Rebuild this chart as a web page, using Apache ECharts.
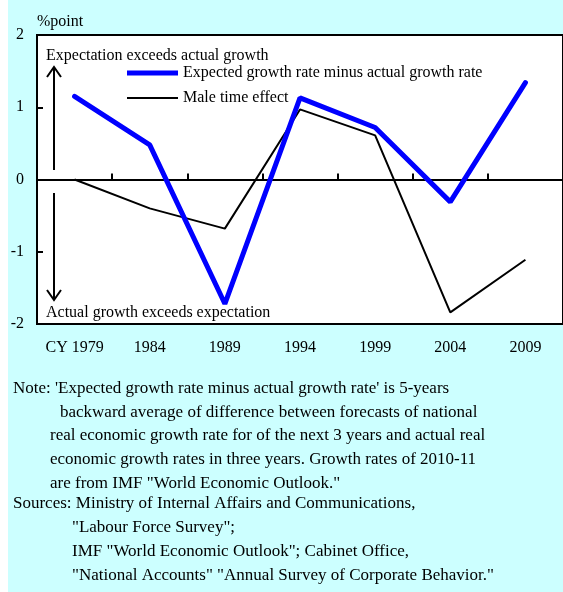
<!DOCTYPE html>
<html>
<head>
<meta charset="utf-8">
<script src="https://cdn.jsdelivr.net/npm/echarts@6/dist/echarts.min.js"></script>
<style>
  html, body { margin: 0; padding: 0; background: #ffffff; }
  #chart { width: 563px; height: 592px; }
</style>
</head>
<body>
<div id="chart"></div>
<script>
// Survey years (5-year steps)
const years = ['1979', '1984', '1989', '1994', '1999', '2004', '2009'];
// Expected growth rate minus actual growth rate (% point)
const expectedMinusActual = [1.15, 0.48, -1.72, 1.13, 0.72, -0.31, 1.34];
// Male time effect (% point)
const maleTimeEffect = [0.0, -0.40, -0.68, 0.97, 0.61, -1.84, -1.11];
const yTicks = { min: -2, max: 2, step: 1 };
const seriesNames = ['Expected growth rate minus actual growth rate', 'Male time effect'];
const noteLines = [
  "Note: 'Expected growth rate minus actual growth rate' is 5-years",
  'backward average of difference between forecasts of national',
  'real economic growth rate for of the next 3 years and actual real',
  'economic growth rates in three years. Growth rates of 2010-11',
  'are from IMF "World Economic Outlook."',
  'Sources: Ministry of Internal Affairs and Communications,',
  '"Labour Force Survey";',
  'IMF "World Economic Outlook"; Cabinet Office,',
  '"National Accounts" "Annual Survey of Corporate Behavior."'
];

// layout of the note block: left edge and vertical centre of each line
const noteX = [13, 60, 50, 50, 50, 13, 72, 72, 72];
const noteY = [389, 413, 436, 460, 484, 504, 528, 552, 576];

const FONT = '"Liberation Serif", "Times New Roman", serif';
const chart = echarts.init(document.getElementById('chart'), null, { renderer: 'canvas' });

function txt(s, x, y, size) {
  return {
    type: 'text', z: 10, x: x, y: y,
    style: { text: s, fontFamily: FONT, fontSize: size, fill: '#000', verticalAlign: 'middle', align: 'left' }
  };
}

const graphics = [
  // panel background
  { type: 'rect', z: -10, silent: true, shape: { x: 8, y: 0, width: 555, height: 592 }, style: { fill: '#ccffff' } },
  // direction annotations
  txt('Expectation exceeds actual growth', 46, 56, 16),
  txt('Actual growth exceeds expectation', 46, 313, 16),
  { type: 'line', z: 10, shape: { x1: 54, y1: 170, x2: 54, y2: 67 }, style: { stroke: '#000', lineWidth: 2 } },
  { type: 'polyline', z: 10, shape: { points: [[47, 77], [54, 67], [61, 77]] }, style: { stroke: '#000', lineWidth: 2, fill: null } },
  { type: 'line', z: 10, shape: { x1: 54, y1: 193, x2: 54, y2: 300 }, style: { stroke: '#000', lineWidth: 2 } },
  { type: 'polyline', z: 10, shape: { points: [[47, 290], [54, 300], [61, 290]] }, style: { stroke: '#000', lineWidth: 2, fill: null } }
];
noteLines.forEach(function (s, i) {
  graphics.push(txt(s, noteX[i], noteY[i], 17));
});

const legendText = { fontFamily: FONT, fontSize: 16, color: '#000' };

const option = {
  animation: false,
  backgroundColor: '#ffffff',
  textStyle: { fontFamily: FONT },
  grid: {
    left: 37, top: 35, width: 530, height: 289,
    show: true, backgroundColor: '#ffffff', borderColor: '#000', borderWidth: 2,
    containLabel: false
  },
  legend: [
    {
      left: 127, top: 65, padding: 0, itemWidth: 51, itemHeight: 5, icon: 'rect',
      textStyle: legendText,
      data: [{ name: seriesNames[0], itemStyle: { color: '#0000ff' } }]
    },
    {
      left: 127, top: 90, padding: 0, itemWidth: 51, itemHeight: 2, icon: 'rect',
      textStyle: legendText,
      data: [{ name: seriesNames[1], itemStyle: { color: '#000' } }]
    }
  ],
  xAxis: [
    {
      // axis line through zero with upward ticks between categories
      type: 'category', data: years, position: 'top',
      axisLine: { show: true, onZero: true, lineStyle: { color: '#000', width: 2 } },
      axisTick: { show: true, inside: false, length: 6, interval: 0, lineStyle: { color: '#000', width: 2 } },
      axisLabel: { show: false },
      splitLine: { show: false }
    },
    {
      // year labels under the plot
      type: 'category', data: years, position: 'bottom',
      axisLine: { show: false, onZero: false }, axisTick: { show: false },
      axisLabel: {
        color: '#000', fontSize: 16, fontFamily: FONT, margin: 16, interval: 0,
        formatter: function (v, i) { return i === 0 ? 'CY ' + v : v; }
      },
      splitLine: { show: false }
    }
  ],
  yAxis: {
    type: 'value', min: yTicks.min, max: yTicks.max, interval: yTicks.step,
    name: '%point', nameLocation: 'end', nameGap: 5,
    nameTextStyle: { color: '#000', fontSize: 16, fontFamily: FONT, align: 'left' },
    axisLine: { show: false },
    axisTick: { show: true, inside: true, length: 6, lineStyle: { color: '#000', width: 2 } },
    axisLabel: { color: '#000', fontSize: 16, fontFamily: FONT, margin: 13 },
    splitLine: { show: false }
  },
  series: [
    {
      name: seriesNames[0], type: 'line', data: expectedMinusActual, xAxisIndex: 0,
      symbol: 'none', z: 5,
      lineStyle: { color: '#0000ff', width: 5, cap: 'round' },
      itemStyle: { color: '#0000ff' }
    },
    {
      name: seriesNames[1], type: 'line', data: maleTimeEffect, xAxisIndex: 0,
      symbol: 'none', z: 4,
      lineStyle: { color: '#000', width: 2 },
      itemStyle: { color: '#000' }
    }
  ],
  graphic: graphics
};
chart.setOption(option);
</script>
</body>
</html>
